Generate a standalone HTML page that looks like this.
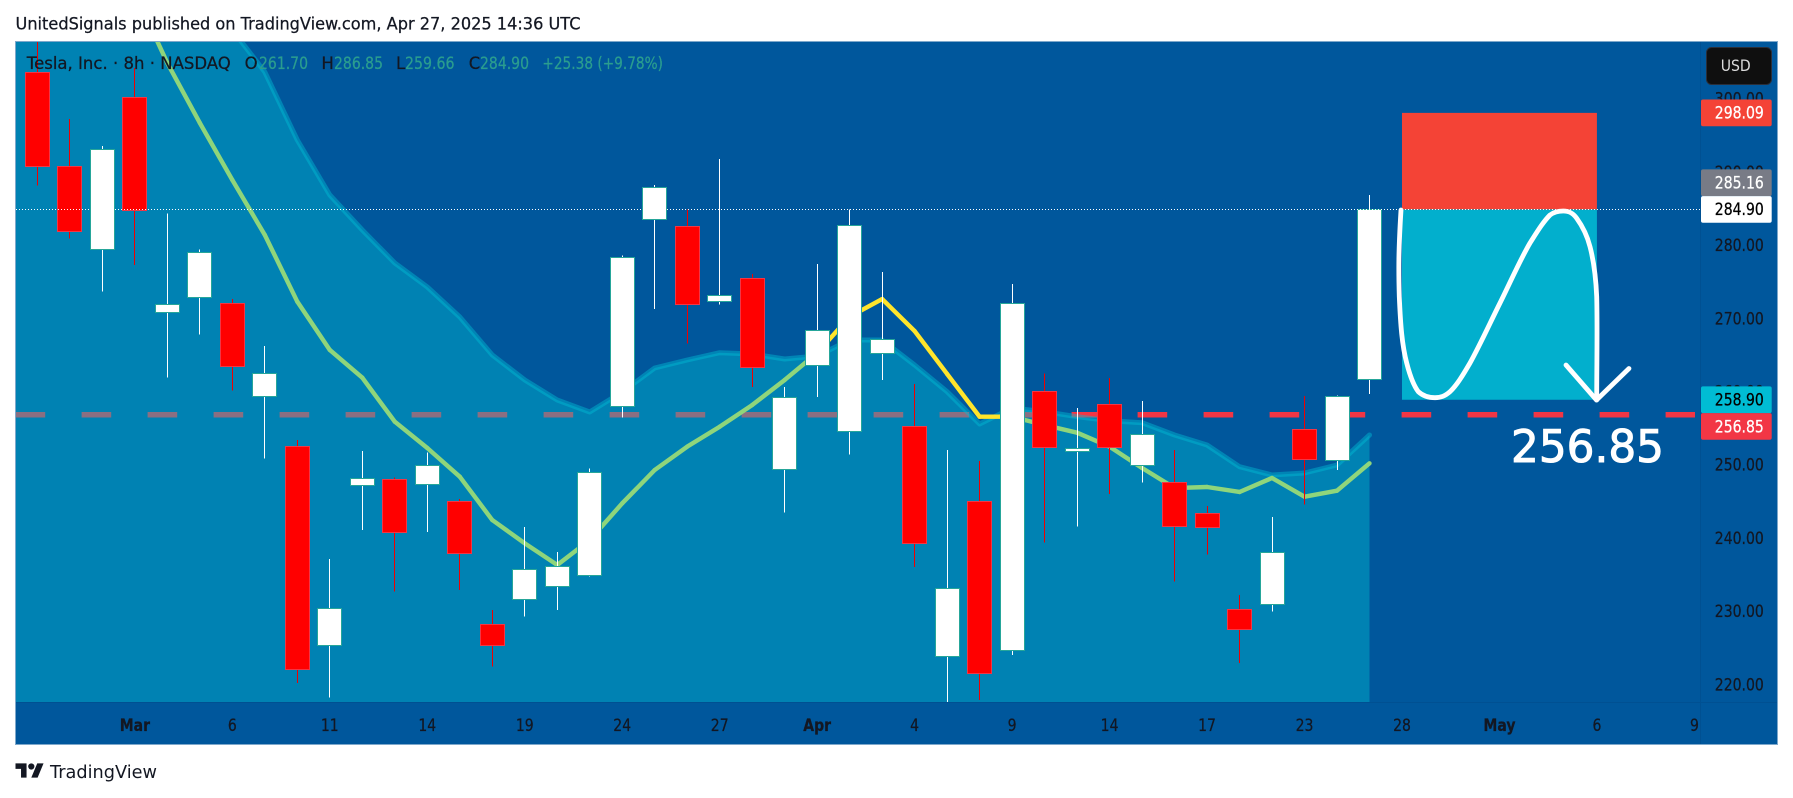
<!DOCTYPE html>
<html lang="en">
<head>
<meta charset="utf-8">
<title>Tesla 8h chart</title>
<style>
html,body{margin:0;padding:0;background:#fff;width:1793px;height:798px;overflow:hidden}
svg{display:block}
text{font-family:"DejaVu Sans","Liberation Sans",sans-serif}
</style>
</head>
<body>
<svg id="chart" xmlns="http://www.w3.org/2000/svg" width="1793" height="798" viewBox="0 0 1793 798">
  <defs>
    <clipPath id="plot-clip"><rect x="16" y="42" width="1684.5" height="660.7"/></clipPath>
  </defs>
  <text x="15.5" y="29.3" font-size="16.5" fill="#131722" stroke="#131722" stroke-width=".25" textLength="565" lengthAdjust="spacingAndGlyphs">UnitedSignals published on TradingView.com, Apr 27, 2025 14:36 UTC</text>
  <rect x="15.5" y="41.5" width="1762" height="703" fill="#00579c" stroke="#7ea8cb" stroke-width="1"/>
  <g id="plot" clip-path="url(#plot-clip)"></g>
  <line x1="1700.5" y1="42" x2="1700.5" y2="744" stroke="#005092" stroke-width="1"/>
  <line x1="16" y1="702.5" x2="1777" y2="702.5" stroke="#005092" stroke-width="1"/>
  <g id="price-axis"></g>
  <g id="time-axis"></g>
  <g>
    <rect x="1706.5" y="47.5" width="65" height="37" rx="5" fill="#0f0f0f" stroke="#2a2e39"/>
    <text x="1735.7" y="71" font-size="16" fill="#dbdbdb" text-anchor="middle" textLength="30" lengthAdjust="spacingAndGlyphs">USD</text>
  </g>
  <g font-size="16.5" stroke-width=".25">
    <text x="26.8" y="69" fill="#131722" stroke="#131722" textLength="204" lengthAdjust="spacingAndGlyphs">Tesla, Inc. · 8h · NASDAQ</text>
    <text x="244.6" y="69" fill="#131722" stroke="#131722">O</text>
    <text x="259" y="69" fill="#2a9d8f" stroke="#2a9d8f" textLength="49" lengthAdjust="spacingAndGlyphs">261.70</text>
    <text x="321.4" y="69" fill="#131722" stroke="#131722">H</text>
    <text x="334" y="69" fill="#2a9d8f" stroke="#2a9d8f" textLength="49" lengthAdjust="spacingAndGlyphs">286.85</text>
    <text x="396" y="69" fill="#131722" stroke="#131722">L</text>
    <text x="405" y="69" fill="#2a9d8f" stroke="#2a9d8f" textLength="49.5" lengthAdjust="spacingAndGlyphs">259.66</text>
    <text x="468.7" y="69" fill="#131722" stroke="#131722">C</text>
    <text x="480" y="69" fill="#2a9d8f" stroke="#2a9d8f" textLength="49" lengthAdjust="spacingAndGlyphs">284.90</text>
    <text x="542.4" y="69" fill="#2a9d8f" stroke="#2a9d8f" textLength="120.6" lengthAdjust="spacingAndGlyphs">+25.38 (+9.78%)</text>
  </g>
  <g>
    <path transform="translate(15.5,760.2) scale(.79)" fill="#131722" d="M14 22H7V11H0V4h14v18zM28 22h-8l7.5-18h8L28 22z"/>
    <circle cx="31.3" cy="766.5" r="3.1" fill="#131722"/>
    <text x="50" y="778" font-size="18" fill="#131722" textLength="107" lengthAdjust="spacingAndGlyphs">TradingView</text>
  </g>
</svg>
<script>
// Candle data (price units), one entry per 8h bar
const opens = [303.63,290.83,279.49,300.22,270.85,272.94,272.08,259.41,252.54,225.36,247.21,248.03,247.35,245.03,228.22,231.64,233.42,234.92,258.05,283.55,282.60,272.35,275.49,249.40,263.61,254.59,265.25,255.27,223.85,245.03,224.67,260.05,251.86,258.28,249.99,247.62,243.39,230.27,230.96,254.86,250.63,261.70];
const highs = [311.00,297.25,293.57,304.22,284.37,279.45,272.66,266.24,253.40,237.14,251.90,248.31,251.67,245.34,230.18,241.52,238.10,249.54,278.63,288.24,284.92,291.79,276.08,260.64,277.45,284.92,276.35,261.05,252.04,250.53,274.71,262.51,257.77,261.87,258.73,252.04,244.39,232.23,242.88,259.41,259.45,286.85];
const lows = [288.20,280.90,273.66,277.31,261.91,267.79,260.14,250.85,220.20,218.20,241.11,232.68,240.83,232.91,222.43,229.26,230.18,234.73,256.45,271.30,266.61,271.89,260.64,243.47,259.28,251.39,261.60,236.05,217.51,217.88,224.03,239.37,241.56,246.02,247.57,234.04,237.73,222.94,229.95,244.56,249.30,259.66];
const closes = [290.83,281.95,293.20,284.78,272.02,279.13,263.47,262.60,222.08,230.49,248.25,240.79,249.95,237.92,225.44,235.82,236.23,249.07,278.36,288.00,271.94,273.17,263.42,259.23,268.47,282.73,267.16,239.29,233.22,221.61,272.08,252.40,252.27,252.40,254.18,241.61,241.48,227.54,238.06,250.77,259.45,284.90];

// Indicator series (price units)
const fastAverage = [null,null,null,314.50,304.90,296.71,288.92,281.41,272.30,265.70,261.91,255.90,252.31,248.39,242.47,239.29,236.33,239.74,244.75,249.30,252.49,255.22,258.18,261.60,265.29,270.25,272.66,268.29,262.42,256.58,256.58,255.45,254.40,252.49,249.58,246.84,246.98,246.30,248.21,245.66,246.48,250.22];
const slowAverage = [340,335,330,325,320,315,309.41,303.67,294.39,286.87,282.09,277.58,274.30,270.20,265.01,261.60,258.87,257.23,259.96,263.24,264.33,265.33,265.15,264.47,264.88,267.06,267.06,263.65,260.00,255.59,257.77,257.27,256.58,256.04,255.77,254.08,252.72,249.75,248.62,248.89,249.99,254.08];

// Axis labels
const priceTicks = [220,230,240,250,260,270,280,290,300];
const timeLabels = ['Mar','6','11','14','19','24','27','Apr','4','9','14','17','23','28','May','6','9'];
const monthLabels = ['Mar','Apr','May'];

// Price levels of the drawings and scale tags
const stopPrice = 298.09;
const crossPrice = 285.16;
const lastPrice = 284.90;
const targetBoxPrice = 258.90;
const targetLinePrice = 256.85;

// Axis functions
const xScale = i => 37.4 + 32.49 * i;
const yScale = p => 684.5 - (p - 220) * 7.32;

const NS = 'http://www.w3.org/2000/svg';
const plot = document.getElementById('plot');
const priceAxis = document.getElementById('price-axis');
const timeAxis = document.getElementById('time-axis');
const PLOT_LEFT = 16, PLOT_RIGHT = 1700.5, PLOT_BOTTOM = 702.7;

function make(tag, attrs, parent) {
  const e = document.createElementNS(NS, tag);
  for (const k in attrs) e.setAttribute(k, attrs[k]);
  parent.appendChild(e);
  return e;
}

// Target dashed level (sits under the cloud)
const targetLine = make('line', {x1: PLOT_LEFT - 0.4, x2: 1695, y1: yScale(targetLinePrice), y2: yScale(targetLinePrice), stroke: '#f23645', 'stroke-width': 5.6, 'stroke-dasharray': '29.6 36.4'}, plot);



// Cloud area
const lastIndex = slowAverage.length - 1;
let areaPath = 'M' + PLOT_LEFT + ' ' + PLOT_BOTTOM + 'L' + PLOT_LEFT + ' ' + yScale(slowAverage[0]);
let cloudEdge = '';
slowAverage.forEach((v, i) => {
  areaPath += 'L' + xScale(i).toFixed(1) + ' ' + yScale(v).toFixed(1);
  cloudEdge += (i ? 'L' : 'M') + xScale(i).toFixed(1) + ' ' + yScale(v).toFixed(1);
});
areaPath += 'L' + xScale(lastIndex).toFixed(1) + ' ' + PLOT_BOTTOM + 'Z';
const cloudFill = make('path', {d: areaPath, fill: '#00bcd4', 'fill-opacity': .43}, plot);


const cloudLine = make('path', {d: cloudEdge, fill: 'none', stroke: '#00bcd4', 'stroke-opacity': .45, 'stroke-width': 5, 'stroke-linecap': 'round', 'stroke-linejoin': 'round'}, plot);



// Fast average, yellow while above the cloud
for (let i = 0; i < fastAverage.length - 1; i++) {
  if (fastAverage[i] === null) continue;
  const above = fastAverage[i] > slowAverage[i];
  const seg = make('line', {x1: xScale(i), y1: yScale(fastAverage[i]), x2: xScale(i + 1), y2: yScale(fastAverage[i + 1]), stroke: above ? '#ffe52b' : '#8fd57b', 'stroke-width': 4.4, 'stroke-linecap': 'round'}, plot);
  
  
}

// Position drawing boxes
const stopBox = make('rect', {x: xScale(42), y: yScale(stopPrice), width: xScale(48) - xScale(42), height: yScale(lastPrice) - yScale(stopPrice), fill: '#f44336'}, plot);


const targetBox = make('rect', {x: xScale(42), y: yScale(lastPrice), width: xScale(48) - xScale(42), height: yScale(targetBoxPrice) - yScale(lastPrice), fill: '#02afcd'}, plot);



// Candles
opens.forEach((open, i) => {
  const close = closes[i];
  const up = close >= open;
  const cx = Math.round(xScale(i) - 0.5) + 0.5;
  const g = make('g', {'shape-rendering': 'crispEdges'}, plot);
  
  
  const wick = make('line', {x1: cx, x2: cx, y1: yScale(highs[i]), y2: yScale(lows[i]), stroke: up ? '#ffffff' : '#f00000', 'stroke-width': 1}, g);
  
  
  const top = Math.round(yScale(Math.max(open, close))) + 0.5;
  const bottom = Math.round(yScale(Math.min(open, close))) + 0.5;
  const body = make('rect', {x: cx - 12, y: top, width: 24, height: Math.max(bottom - top, 1), fill: up ? '#ffffff' : '#ff0000', stroke: up ? '#26a69a' : '#f23645', 'stroke-width': 1}, g);
  
  
});

// Last price dotted line
const lastLine = make('line', {x1: PLOT_LEFT, x2: PLOT_RIGHT, y1: Math.round(yScale(lastPrice)) + 0.5, y2: Math.round(yScale(lastPrice)) + 0.5, stroke: '#ffffff', 'stroke-width': 1, 'stroke-dasharray': '1 2'}, plot);



// Hand drawn projection and arrow
const projection = make('path', {d: 'M1401 210C1398.5 250 1398.5 270 1399.3 296.7C1400.5 325 1402 345 1406.7 363C1410 376 1414 386 1418.3 391.7C1423 396 1429 397.7 1435 397.7C1441 397.7 1445 396 1450 391.7C1457 385 1463 375 1470 363C1480 345 1490 323 1500 303C1510 283 1520 260 1530 243C1537 232 1543 222 1550 215C1554 212 1558 211 1563.3 211C1569 211 1573 213 1576.7 218.3C1583 227 1587 235 1590 246.7C1594 262 1596 280 1596.7 296.7C1597.5 330 1596.7 365 1596.7 400', fill: 'none', stroke: '#ffffff', 'stroke-width': 4.8, 'stroke-linecap': 'round', 'stroke-linejoin': 'round'}, plot);


const arrowHead = make('path', {d: 'M1566 365L1596.5 400L1629 368.5', fill: 'none', stroke: '#ffffff', 'stroke-width': 4.8, 'stroke-linecap': 'round', 'stroke-linejoin': 'round'}, plot);



// Big target label
const bigLabel = make('text', {x: 1511, y: 462.2, 'font-size': 44.5, fill: '#ffffff', stroke: '#ffffff', 'stroke-width': 1, textLength: 153, lengthAdjust: 'spacingAndGlyphs'}, plot);
bigLabel.textContent = targetLinePrice.toFixed(2);



// Shared label drawing for scale text
function scaleText(parent, x, y, str, color, bold) {
  const t = make('text', {transform: 'translate(' + x + ',' + y + ') scale(.85,1)', 'font-size': 16.5, fill: color, stroke: color, 'stroke-width': .25, 'text-anchor': 'middle'}, parent);
  if (bold) t.setAttribute('font-weight', 'bold');
  t.textContent = str;
  return t;
}

// Price ticks
priceTicks.forEach(p => {
  const t = scaleText(priceAxis, 1739.3, yScale(p) + 5.8, p.toFixed(2), '#131722', false);
  
  
});

// Time ticks, every third bar
timeLabels.forEach((label, k) => {
  const bold = monthLabels.includes(label);
  const t = scaleText(timeAxis, xScale(3 + 3 * k), 731, label, '#131722', bold);
  
  
});

// Price scale tags
const TAG_H = 26.7;
function priceTag(centerY, price, fill, color) {
  const g = make('g', {}, priceAxis);
  const r = make('rect', {x: 1701, y: centerY - TAG_H / 2, width: 70.7, height: TAG_H, rx: 2, fill: fill}, g);
  
  
  const t = scaleText(g, 1739.3, centerY + 5.8, price.toFixed(2), color, false);
  
  
  return g;
}
const stopTag = priceTag(yScale(stopPrice), stopPrice, '#f44336', '#ffffff');


const crossTag = priceTag(yScale(lastPrice) - TAG_H, crossPrice, '#787b86', '#ffffff');


const lastTag = priceTag(yScale(lastPrice), lastPrice, '#ffffff', '#000000');


const boxTag = priceTag(yScale(targetBoxPrice), targetBoxPrice, '#00bcd4', '#000000');


const targetTag = priceTag(yScale(targetBoxPrice) + TAG_H, targetLinePrice, '#f23645', '#ffffff');


</script>
</body>
</html>
